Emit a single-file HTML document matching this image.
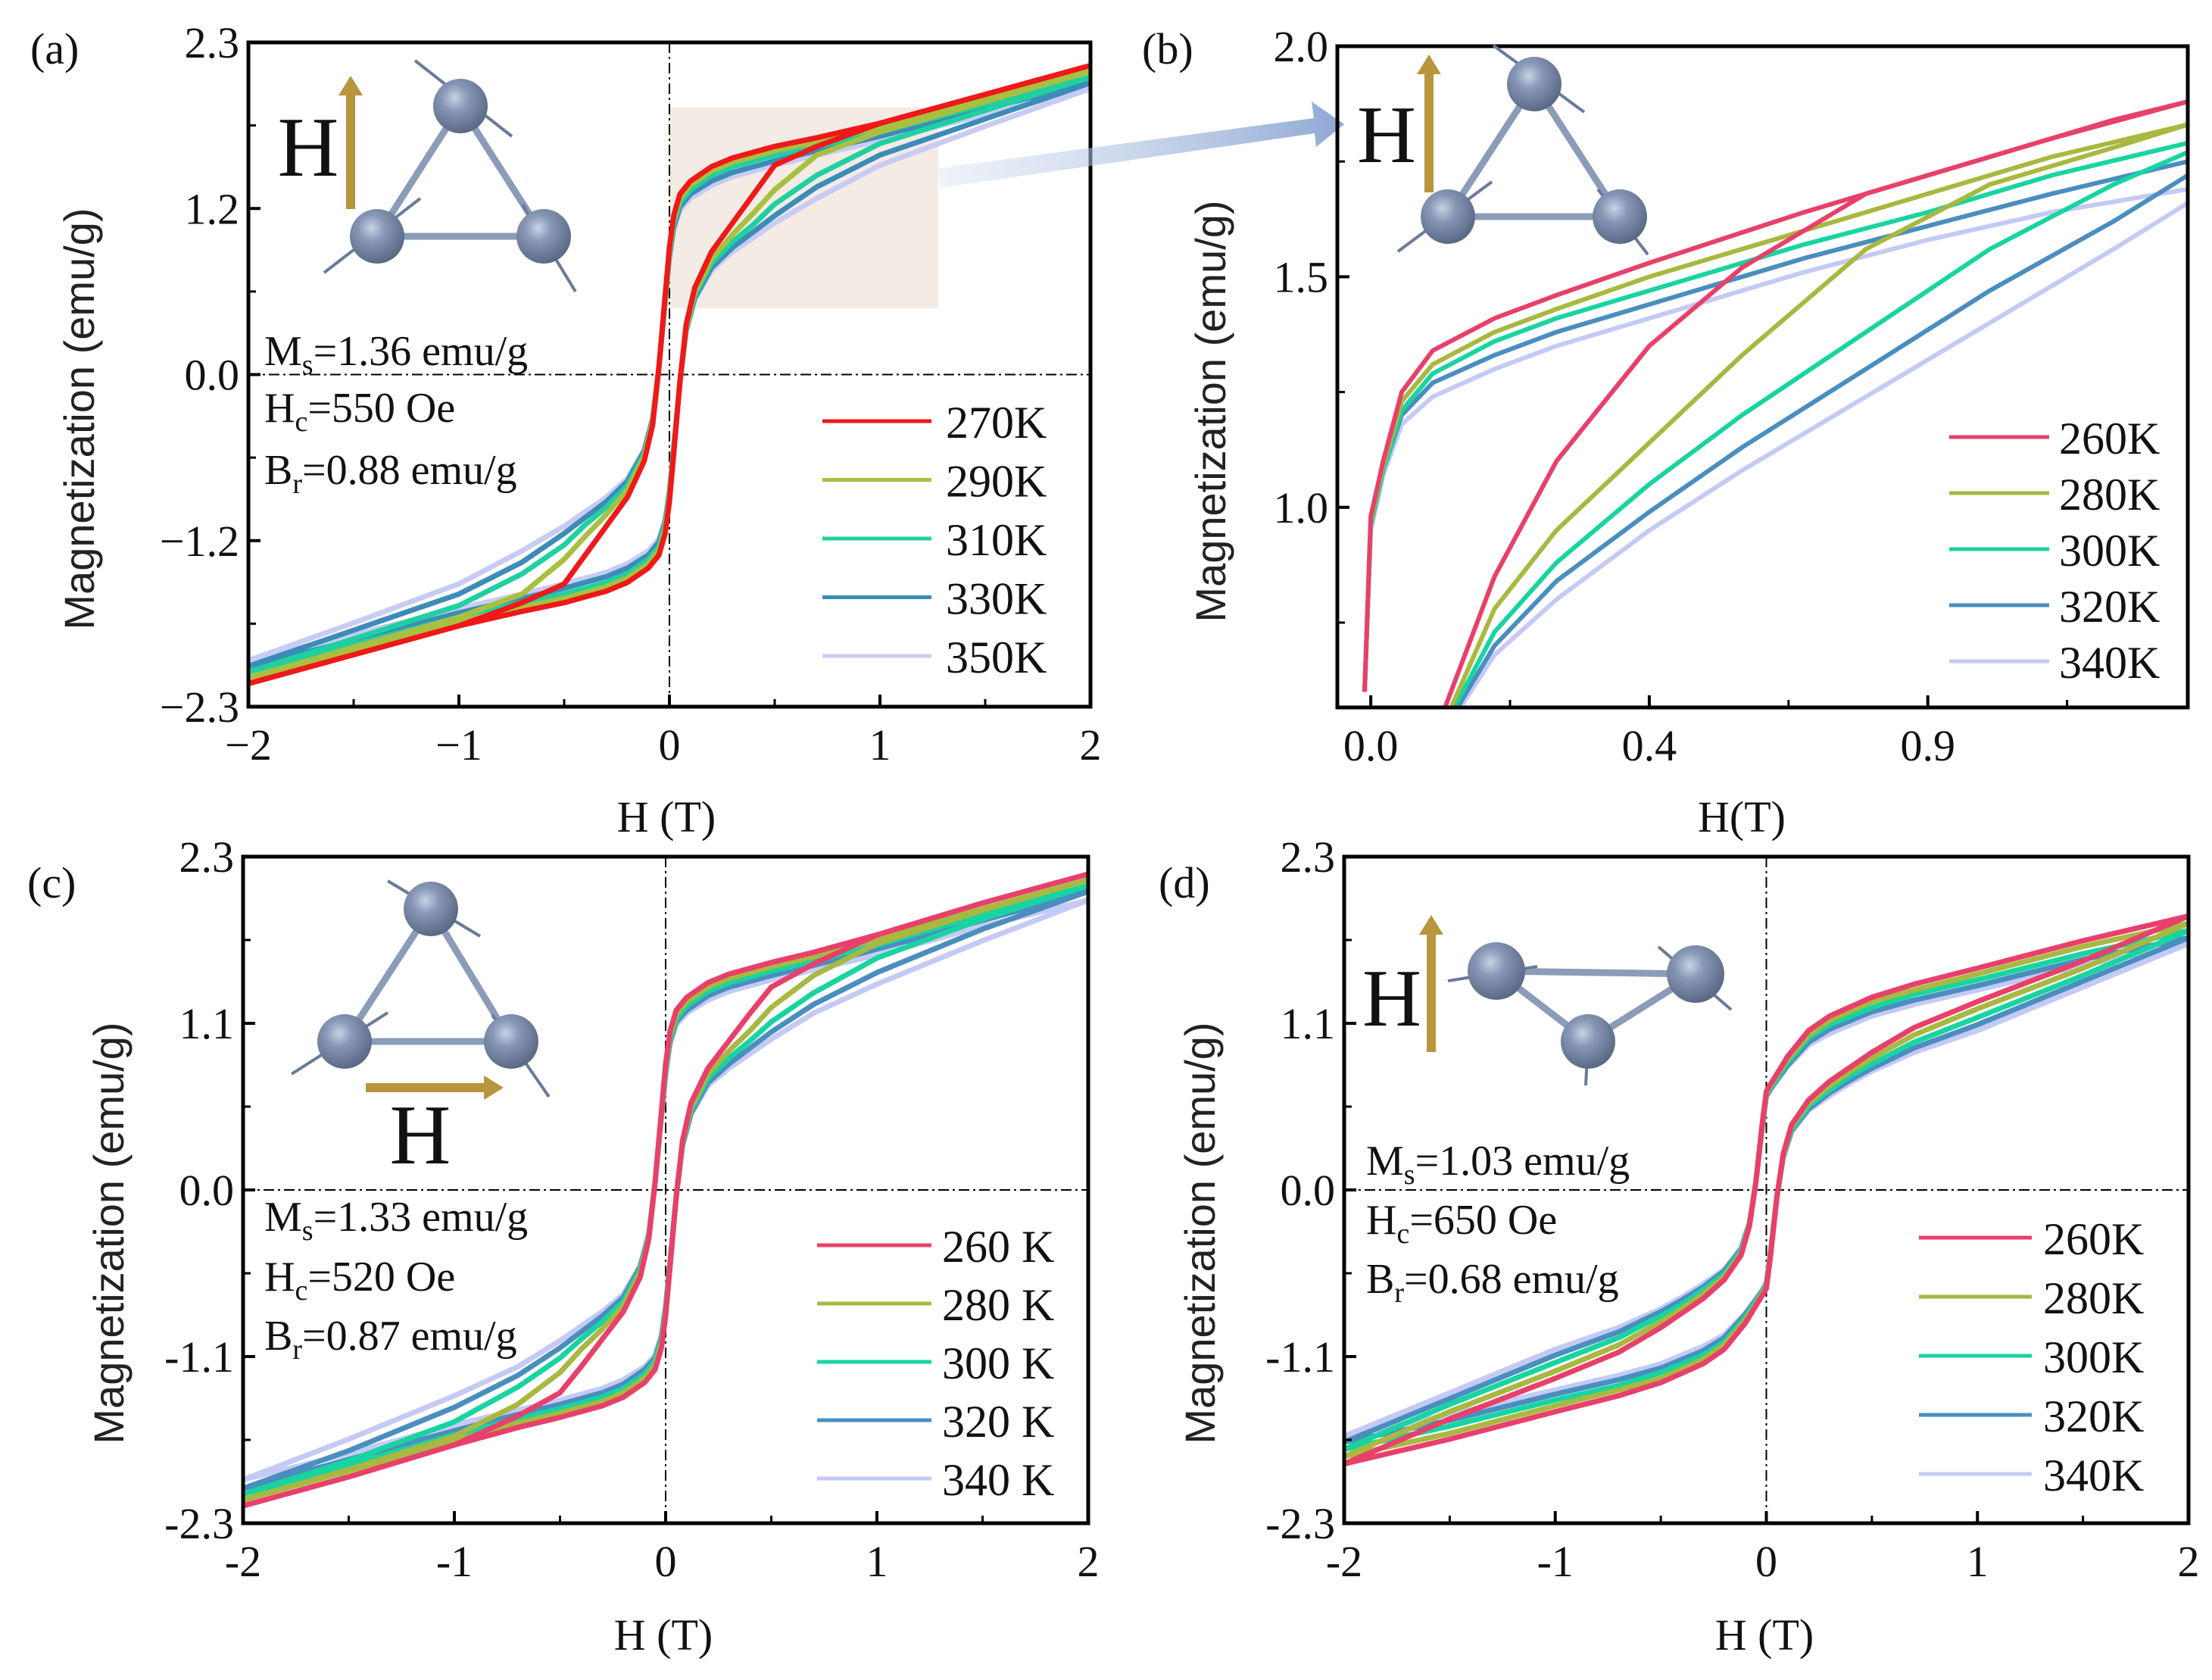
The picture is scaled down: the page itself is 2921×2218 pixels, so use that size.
<!DOCTYPE html>
<html><head><meta charset="utf-8"><style>
html,body{margin:0;padding:0;background:#fff;}
svg{display:block;}
.tk{font-family:"Liberation Serif",serif;font-size:58px;fill:#111;}
.ttl{font-family:"Liberation Sans",sans-serif;font-size:56px;fill:#222;}
.ser{font-family:"Liberation Serif",serif;fill:#111;}
</style></head><body>
<svg id="fig" width="2921" height="2218" viewBox="0 0 2921 2218" xmlns="http://www.w3.org/2000/svg">
<defs>
<radialGradient id="ball" cx="0.4" cy="0.35" r="0.7"><stop offset="0" stop-color="#c8d2e4"/><stop offset="0.35" stop-color="#8797b6"/><stop offset="1" stop-color="#55647f"/></radialGradient>
<linearGradient id="bigArrow" x1="0" x2="1" y1="0" y2="0"><stop offset="0" stop-color="#c8d6ec" stop-opacity="0.3"/><stop offset="1" stop-color="#8ea8d4"/></linearGradient>
</defs>
<g id="root"></g>
</svg>
<script>
// ---------- Panel (a) data: descending (upper) branch M(H), ascending branch by symmetry ----------
const gridH = [2,1.5,1,0.7,0.5,0.3,0.2,0.1,0.05,0.02,0,-0.02,-0.05,-0.08,-0.12,-0.2,-0.3,-0.4,-0.5,-0.7,-1,-1.5,-2];
const aLabels = ["270K","290K","310K","330K","350K"];
const aColors = ["#f01818","#a8c040","#20d0a0","#3c8cb8","#c8ccf4"];
const a270 = [2.14,1.94,1.74,1.64,1.58,1.50,1.44,1.34,1.25,1.10,0.88,0.55,0.05,-0.35,-0.60,-0.85,-1.05,-1.25,-1.45,-1.58,-1.74,-1.94,-2.14];
const a290 = [2.10,1.91,1.71,1.61,1.55,1.47,1.41,1.31,1.22,1.07,0.86,0.53,0.05,-0.33,-0.57,-0.80,-0.97,-1.12,-1.28,-1.52,-1.68,-1.89,-2.10];
const a310 = [2.06,1.87,1.68,1.58,1.52,1.44,1.38,1.28,1.19,1.04,0.84,0.52,0.05,-0.32,-0.55,-0.77,-0.92,-1.04,-1.18,-1.38,-1.60,-1.83,-2.06];
const a330 = [2.02,1.84,1.65,1.55,1.48,1.40,1.34,1.25,1.16,1.02,0.82,0.51,0.05,-0.31,-0.53,-0.74,-0.88,-0.99,-1.10,-1.30,-1.52,-1.77,-2.02];
const a350 = [1.98,1.80,1.62,1.52,1.45,1.37,1.31,1.22,1.14,1.00,0.80,0.50,0.05,-0.30,-0.52,-0.72,-0.85,-0.95,-1.05,-1.22,-1.45,-1.72,-1.98];
// ---------- Panel (c) data ----------
const cLabels = ["260 K","280 K","300 K","320 K","340 K"];
const cColors = ["#e8406a","#a8b840","#18d4a0","#4a8ec0","#c4caf4"];
const c260 = [2.18,1.98,1.76,1.64,1.57,1.49,1.43,1.33,1.24,1.09,0.87,0.54,0.05,-0.34,-0.60,-0.84,-1.03,-1.22,-1.40,-1.56,-1.76,-1.98,-2.18];
const c280 = [2.14,1.94,1.73,1.61,1.54,1.46,1.40,1.30,1.21,1.06,0.85,0.53,0.05,-0.33,-0.57,-0.80,-0.96,-1.10,-1.26,-1.48,-1.70,-1.93,-2.14];
const c300 = [2.10,1.90,1.69,1.58,1.51,1.43,1.37,1.27,1.18,1.04,0.83,0.52,0.05,-0.32,-0.55,-0.77,-0.91,-1.03,-1.16,-1.36,-1.60,-1.87,-2.10];
const c320 = [2.06,1.86,1.66,1.55,1.48,1.40,1.34,1.24,1.16,1.02,0.81,0.51,0.05,-0.31,-0.53,-0.74,-0.87,-0.98,-1.09,-1.28,-1.50,-1.80,-2.06];
const c340 = [2.00,1.82,1.62,1.52,1.45,1.37,1.31,1.22,1.14,1.00,0.79,0.50,0.05,-0.30,-0.52,-0.72,-0.84,-0.94,-1.04,-1.22,-1.42,-1.72,-2.00];
// ---------- Panel (d) data ----------
const dLabels = ["260K","280K","300K","320K","340K"];
const dColors = ["#e8406a","#a8b840","#18d4a0","#4a8ec0","#c4caf4"];
const d260 = [1.89,1.72,1.53,1.42,1.33,1.20,1.10,0.92,0.80,0.73,0.68,0.45,0.05,-0.25,-0.45,-0.62,-0.75,-0.85,-0.95,-1.12,-1.30,-1.58,-1.89];
const d280 = [1.84,1.68,1.49,1.38,1.30,1.17,1.07,0.90,0.79,0.72,0.67,0.44,0.05,-0.24,-0.44,-0.60,-0.72,-0.82,-0.91,-1.07,-1.25,-1.53,-1.84];
const d300 = [1.79,1.63,1.45,1.35,1.26,1.14,1.05,0.88,0.77,0.71,0.66,0.43,0.05,-0.23,-0.42,-0.58,-0.69,-0.79,-0.87,-1.02,-1.19,-1.48,-1.79];
const d320 = [1.74,1.59,1.41,1.31,1.23,1.11,1.02,0.86,0.76,0.70,0.65,0.43,0.05,-0.23,-0.41,-0.56,-0.67,-0.76,-0.84,-0.98,-1.14,-1.44,-1.74];
const d340 = [1.70,1.55,1.38,1.28,1.20,1.08,1.00,0.85,0.75,0.69,0.64,0.42,0.05,-0.22,-0.40,-0.55,-0.65,-0.74,-0.82,-0.95,-1.10,-1.40,-1.70];
// ---------- Panel (b) data (zoom) ----------
const bLabels = ["260K","280K","300K","320K","340K"];
const bColors = ["#e8406a","#a8b840","#18d4a0","#4a8ec0","#c4caf4"];
const bDescH = [1.32,1.1,0.9,0.7,0.45,0.3,0.2,0.1,0.05,0.02,0.0,-0.01];
const bDesc260 = [1.88,1.80,1.72,1.64,1.53,1.46,1.41,1.34,1.25,1.10,0.98,0.60];
const bDesc280 = [1.83,1.76,1.68,1.60,1.50,1.43,1.38,1.31,1.23,1.09,0.97,0.60];
const bDesc300 = [1.79,1.72,1.64,1.57,1.47,1.41,1.36,1.29,1.21,1.08,0.96,0.60];
const bDesc320 = [1.75,1.68,1.61,1.54,1.44,1.38,1.33,1.27,1.20,1.08,0.96,0.60];
const bDesc340 = [1.69,1.64,1.58,1.51,1.41,1.35,1.30,1.24,1.18,1.07,0.95,0.60];
const bAscH = [0.2,0.3,0.45,0.6,0.8,1.0,1.2,1.32];
const bAscStartH = [0.12,0.13,0.135,0.14,0.145];
const bAscStartM = 0.566;
const bAsc260 = [0.85,1.10,1.35,1.52,1.68,1.76,1.84,1.88];
const bAsc280 = [0.78,0.95,1.14,1.33,1.56,1.70,1.78,1.83];
const bAsc300 = [0.73,0.88,1.05,1.20,1.38,1.56,1.70,1.77];
const bAsc320 = [0.70,0.84,0.99,1.13,1.30,1.47,1.62,1.72];
const bAsc340 = [0.68,0.80,0.95,1.08,1.24,1.40,1.56,1.66];
// tick arrays
const hysXTicks = [-2,-1,0,1,2];
const hysXTickLabelsA = ["\u22122","\u22121","0","1","2"];
const hysXTickLabelsC = ["-2","-1","0","1","2"];
const hysYTicks = [2.3,1.15,0,-1.15,-2.3];
const aYTickLabels = ["2.3","1.2","0.0","\u22121.2","\u22122.3"];
const cYTickLabels = ["2.3","1.1","0.0","-1.1","-2.3"];
const bXTicks = [0,0.45,0.9];
const bXTickLabels = ["0.0","0.4","0.9"];
const bYTicks = [2.0,1.5,1.0];
const bYTickLabels = ["2.0","1.5","1.0"];

const NS = "http://www.w3.org/2000/svg";
const root = document.getElementById('root');
function mk(tag, attrs, parent, txt){
  const e = document.createElementNS(NS, tag);
  for (const k in attrs) e.setAttribute(k, attrs[k]);
  if (txt !== undefined) e.textContent = txt;
  (parent||root).appendChild(e);
  return e;
}
function scale(d0,d1,r0,r1){ return v => r0 + (v-d0)/(d1-d0)*(r1-r0); }

function axesFrame(P, xs, ys, xTicks, xLabels, xMinor, yTicks, yLabels, yMinor, g){
  xTicks.forEach((t,i)=>{
    const x = xs(t);
    const tk = mk('line',{x1:x,x2:x,y1:P.b,y2:P.b-16,stroke:'#000','stroke-width':4},g);
    
    
    const lb = mk('text',{x:x,y:P.b+70,'text-anchor':'middle',class:'tk'},g,xLabels[i]);
    
    
  });
  xMinor.forEach(t=>{
    const x = xs(t);
    const tk = mk('line',{x1:x,x2:x,y1:P.b,y2:P.b-10,stroke:'#000','stroke-width':3},g);
    
    
  });
  yTicks.forEach((t,i)=>{
    const y = ys(t);
    const tk = mk('line',{x1:P.l,x2:P.l+16,y1:y,y2:y,stroke:'#000','stroke-width':4},g);
    
    
    const lb = mk('text',{x:P.l-12,y:y+20,'text-anchor':'end',class:'tk'},g,yLabels[i]);
    
    
  });
  yMinor.forEach(t=>{
    const y = ys(t);
    const tk = mk('line',{x1:P.l,x2:P.l+10,y1:y,y2:y,stroke:'#000','stroke-width':3},g);
    
    
  });
  const box = mk('rect',{x:P.l,y:P.t,width:P.r-P.l,height:P.b-P.t,fill:'none',stroke:'#000','stroke-width':5},g);
  
  
}
function pathFrom(pts){ return 'M' + pts.map(p=>p[0].toFixed(1)+','+p[1].toFixed(1)).join('L'); }

function legend(P, L, labels, colors, g){
  labels.forEach((lab,i)=>{
    const y = L.y0 + i*L.dy;
    const ln = mk('line',{x1:L.x1,x2:L.x2,y1:y,y2:y,stroke:colors[i],'stroke-width':5},g);
    
    
    const tx = mk('text',{x:L.tx,y:y+22,class:'ser','font-size':60},g,lab);
    
    
  });
}
function annot(x, ys, vals, g){
  const names = [['M','s'],['H','c'],['B','r']];
  vals.forEach((v,i)=>{
    const t = mk('text',{x:x,y:ys[i],class:'ser','font-size':56},g);
    
    
    mk('tspan',{},t,names[i][0]);
    mk('tspan',{dy:12,'font-size':38},t,names[i][1]);
    mk('tspan',{dy:-12},t,v);
  });
}
function hysPanel(P, series, colors, labels, xLabels, yLabels, g){
  const xs = scale(-2,2,P.l,P.r), ys = scale(-2.3,2.3,P.b,P.t);
  const vl = mk('line',{x1:xs(0),x2:xs(0),y1:P.t,y2:P.b,stroke:'#000','stroke-width':2,'stroke-dasharray':'14,5,3,5'},g);
  
  
  const hl = mk('line',{x1:P.l,x2:P.r,y1:ys(0),y2:ys(0),stroke:'#000','stroke-width':2,'stroke-dasharray':'14,5,3,5'},g);
  
  
  for (let k = series.length-1; k >= 0; k--){
    const s = series[k];
    const desc = gridH.map((h,i)=>[xs(h),ys(s[i])]);
    const asc = gridH.map((h,i)=>[xs(-h),ys(-s[i])]);
    const p1 = mk('path',{d:pathFrom(desc),fill:'none',stroke:colors[k],'stroke-width':7,'stroke-linejoin':'round'},g);
    
    
    const p2 = mk('path',{d:pathFrom(asc),fill:'none',stroke:colors[k],'stroke-width':7,'stroke-linejoin':'round'},g);
    
    
  }
  axesFrame(P, xs, ys, hysXTicks, xLabels, [-1.5,-0.5,0.5,1.5], hysYTicks, yLabels, [1.725,0.575,-0.575,-1.725], g);
  return {xs, ys};
}
function molecule(balls, bonds, spins, g){
  bonds.forEach(b=>{
    const l = mk('line',{x1:balls[b[0]][0],y1:balls[b[0]][1],x2:balls[b[1]][0],y2:balls[b[1]][1],stroke:'#8a9cb8','stroke-width':9},g);
    
    
  });
  spins.forEach(s=>{
    const l = mk('line',{x1:s[0],y1:s[1],x2:s[2],y2:s[3],stroke:'#6a7a98','stroke-width':4},g);
    
    
  });
  balls.forEach(b=>{
    const c = mk('circle',{cx:b[0],cy:b[1],r:b[2]||36,fill:'url(#ball)'},g);
    
    
  });
}
function goldArrow(x1,y1,x2,y2,g){
  const ang = Math.atan2(y2-y1,x2-x1), L = 26, W = 16;
  const bx = x2 - L*Math.cos(ang), by = y2 - L*Math.sin(ang);
  const l = mk('line',{x1:x1,y1:y1,x2:bx,y2:by,stroke:'#b8963e','stroke-width':12},g);
  
  
  const px = -Math.sin(ang)*W, py = Math.cos(ang)*W;
  const h = mk('polygon',{points:`${x2},${y2} ${bx+px},${by+py} ${bx-px},${by-py}`,fill:'#b8963e'},g);
  
  
}
function bigH(x,y,g,size){
  const t = mk('text',{x:x,y:y,class:'ser','font-size':size||112,'text-anchor':'middle'},g,'H');
  
  
}
function titles(xt, yt, xlabel, g){
  const x = mk('text',{x:xt[0],y:xt[1],class:'ser','font-size':58,'text-anchor':'middle'},g,xlabel);
  
  
  const y = mk('text',{x:0,y:0,class:'ttl','text-anchor':'middle',transform:`translate(${yt[0]},${yt[1]}) rotate(-90)`},g,'Magnetization (emu/g)');
  
  
}
function panelLabel(x,y,s,g){
  const t = mk('text',{x:x,y:y,class:'ser','font-size':58},g,s);
  
  
}

// ===== Panel (a) =====
const ga = mk('g',{});


const PA = {l:328,r:1440,t:56,b:933};
const zr = mk('rect',{x:884,y:142,width:355,height:265,fill:'#f3ebe4'},ga);


hysPanel(PA,[a270,a290,a310,a330,a350],aColors,aLabels,hysXTickLabelsA,aYTickLabels,ga);
legend(PA,{x1:1086,x2:1230,tx:1249,y0:556,dy:77.5},aLabels,aColors,ga);
annot(349,[482,557,639],["=1.36 emu/g","=550 Oe","=0.88 emu/g"],ga);
molecule([[608,140],[498,312],[718,312]],[[0,1],[0,2],[1,2]],[[548,80,676,180],[428,360,555,262],[690,270,760,385]],ga);
goldArrow(463,276,463,100,ga);
bigH(407,232,ga);
titles([880,1098],[124,553],'H (T)',ga);
panelLabel(40,84,'(a)',ga);
const ba = mk('polygon',{points:'1239,222 1735,156 1732,134 1775,164 1738,194 1736,176 1242,248',fill:'url(#bigArrow)'});



// ===== Panel (b) =====
const gb = mk('g',{});


const PB = {l:1766,r:2889,t:61,b:934};
(function(){
  const xs = scale(-0.054,1.32,PB.l,PB.r), ys = scale(0.566,2.0,PB.b,PB.t);
  const clip = mk('clipPath',{id:'clipB'},gb);
  mk('rect',{x:PB.l,y:PB.t,width:PB.r-PB.l,height:PB.b-PB.t},clip);
  const cg = mk('g',{'clip-path':'url(#clipB)'},gb);
  const desc = [bDesc260,bDesc280,bDesc300,bDesc320,bDesc340];
  const asc = [bAsc260,bAsc280,bAsc300,bAsc320,bAsc340];
  for (let k=4;k>=0;k--){
    const p1 = mk('path',{d:pathFrom(bDescH.map((h,i)=>[xs(h),ys(desc[k][i])])),fill:'none',stroke:bColors[k],'stroke-width':6},cg);
    
    
    const pts = [[xs(bAscStartH[k]),ys(bAscStartM)]].concat(bAscH.map((h,i)=>[xs(h),ys(asc[k][i])]));
    const p2 = mk('path',{d:pathFrom(pts),fill:'none',stroke:bColors[k],'stroke-width':6},cg);
    
    
  }
  axesFrame(PB,xs,ys,bXTicks,bXTickLabels,[0.225,0.675,1.125],bYTicks,bYTickLabels,[1.75,1.25,0.75],gb);
})();
legend(PB,{x1:2574,x2:2706,tx:2719,y0:577,dy:74},bLabels,bColors,gb);
molecule([[2026,111],[1912,286],[2139,286]],[[0,1],[0,2],[1,2]],[[1972,60,2092,148],[1846,332,1970,240],[2110,250,2176,336]],gb);
goldArrow(1887,254,1887,72,gb);
bigH(1831,214,gb,108);
titles([2300,1098],[1618,543],'H(T)',gb);
panelLabel(1508,84,'(b)',gb);

// ===== Panel (c) =====
const gc = mk('g',{});


const PC = {l:321,r:1437,t:1131,b:2011};
hysPanel(PC,[c260,c280,c300,c320,c340],cColors,cLabels,hysXTickLabelsC,cYTickLabels,gc);
legend(PC,{x1:1079,x2:1230,tx:1244,y0:1644,dy:77},cLabels,cColors,gc);
annot(349,[1625,1704,1782],["=1.33 emu/g","=520 Oe","=0.87 emu/g"],gc);
molecule([[569,1200],[455,1375],[675,1375]],[[0,1],[0,2],[1,2]],[[512,1163,634,1236],[385,1418,512,1337],[650,1340,725,1448]],gc);
goldArrow(483,1436,665,1436,gc);
bigH(555,1536,gc);
titles([876,2178],[163,1628],'H (T)',gc);
panelLabel(36,1185,'(c)',gc);

// ===== Panel (d) =====
const gd = mk('g',{});


const PD = {l:1775,r:2890,t:1131,b:2011};
hysPanel(PD,[d260,d280,d300,d320,d340],dColors,dLabels,hysXTickLabelsC,cYTickLabels,gd);
legend(PD,{x1:2534,x2:2683,tx:2698,y0:1634,dy:78},dLabels,dColors,gd);
annot(1804,[1551,1629,1707],["=1.03 emu/g","=650 Oe","=0.68 emu/g"],gd);
molecule([[1976,1282,38],[2239,1286,38],[2097,1375,36]],[[0,1],[0,2],[1,2]],[[1912,1295,2030,1276],[2190,1250,2286,1333],[2097,1375,2094,1433]],gd);
goldArrow(1890,1389,1890,1208,gd);
bigH(1838,1354,gd,108);
titles([2330,2178],[1604,1628],'H (T)',gd);
panelLabel(1530,1185,'(d)',gd);
</script>
</body></html>
